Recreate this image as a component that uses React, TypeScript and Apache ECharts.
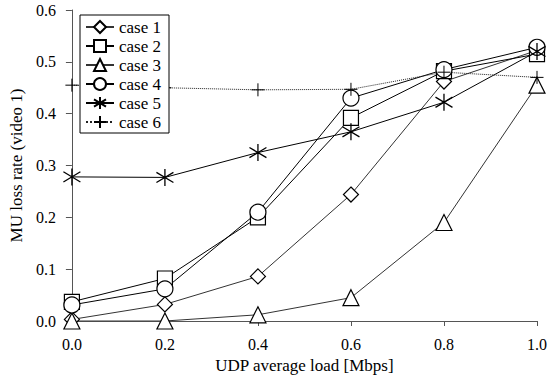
import React, { useEffect, useRef } from "react";
import * as echarts from "echarts";

const xValues = [0.0, 0.2, 0.4, 0.6, 0.8, 1.0];
const case1 = [0.003, 0.032, 0.086, 0.244, 0.462, 0.522];
const case2 = [0.037, 0.082, 0.2, 0.392, 0.482, 0.515];
const case3 = [0.0, 0.0, 0.012, 0.045, 0.19, 0.455];
const case4 = [0.031, 0.062, 0.21, 0.43, 0.485, 0.528];
const case5 = [0.278, 0.277, 0.325, 0.365, 0.422, 0.52];
const case6 = [0.455, 0.45, 0.446, 0.447, 0.48, 0.47];
const seriesNames = ["case 1", "case 2", "case 3", "case 4", "case 5", "case 6"];

const STAR = "path://M0,-1L0,1M-0.95,-0.6L0.95,0.6M-0.95,0.6L0.95,-0.6";
const PLUS = "path://M0,-1L0,1M-1,0L1,0";

export default function App() {
  const ref = useRef<HTMLDivElement>(null);
  useEffect(() => {
    const chart = echarts.init(ref.current!, null, { renderer: "svg" });
    const font = "Liberation Serif";
    const mk = (
      name: string,
      vals: number[],
      symbol: string,
      size: number,
      lineType: any,
      lineColor: string,
      symbolWidth = 1.2
    ) => ({
      name,
      type: "line",
      data: xValues.map((x, i) => [x, vals[i]]),
      symbol,
      symbolSize: size,
      showSymbol: true,
      lineStyle: { color: lineColor, width: 1, type: lineType },
      itemStyle: {
        color: symbol.startsWith("path") ? "#000" : "#fff",
        borderColor: "#000",
        borderWidth: symbolWidth,
      },
      emphasis: { disabled: true },
      z: 3,
    });
    chart.setOption({
      animation: false,
      backgroundColor: "#fff",
      textStyle: { fontFamily: font },
      grid: { left: 70, right: 10, top: 10, bottom: 64, containLabel: false },
      legend: {
        orient: "vertical",
        left: 80,
        top: 15,
        backgroundColor: "#fff",
        borderColor: "#000",
        borderWidth: 1,
        padding: [3, 8, 2, 5],
        itemGap: 1,
        itemWidth: 28,
        itemHeight: 15,
        textStyle: { fontFamily: font, fontSize: 17, lineHeight: 18, color: "#000" },
        data: seriesNames,
        z: 10,
      },
      xAxis: {
        type: "value",
        min: 0,
        max: 1,
        interval: 0.2,
        name: "UDP average load [Mbps]",
        nameLocation: "middle",
        nameGap: 34,
        nameTextStyle: { fontFamily: font, fontSize: 17, color: "#000" },
        axisLine: { show: true, lineStyle: { color: "#555", width: 1 } },
        axisTick: { show: true, length: 5, lineStyle: { color: "#555" } },
        axisLabel: {
          fontFamily: font,
          fontSize: 16,
          color: "#000",
          margin: 15,
          formatter: (v: number) => v.toFixed(1),
        },
        splitLine: { show: false },
      },
      yAxis: {
        type: "value",
        min: 0,
        max: 0.6,
        interval: 0.1,
        name: "MU loss rate (video 1)",
        nameLocation: "middle",
        nameGap: 29,
        nameTextStyle: { fontFamily: font, fontSize: 17, color: "#000" },
        axisLine: { show: true, lineStyle: { color: "#555", width: 1 } },
        axisTick: { show: true, length: 6, lineStyle: { color: "#555" } },
        axisLabel: {
          fontFamily: font,
          fontSize: 16,
          color: "#000",
          margin: 16,
          formatter: (v: number) => v.toFixed(1),
        },
        splitLine: { show: false },
      },
      series: [
        mk("case 1", case1, "diamond", 15, "solid", "#333"),
        mk("case 2", case2, "rect", 15, "solid", "#000"),
        mk("case 3", case3, "triangle", 16, "solid", "#333"),
        mk("case 4", case4, "circle", 16, "solid", "#000"),
        mk("case 5", case5, STAR, 17, "solid", "#000", 1.3),
        mk("case 6", case6, PLUS, 13, "dotted", "#222", 1),
      ],
    });
    return () => chart.dispose();
  }, []);
  return (
    <div
      ref={ref}
      style={{ position: "absolute", left: 0, top: 0, width: 550, height: 385 }}
    />
  );
}
